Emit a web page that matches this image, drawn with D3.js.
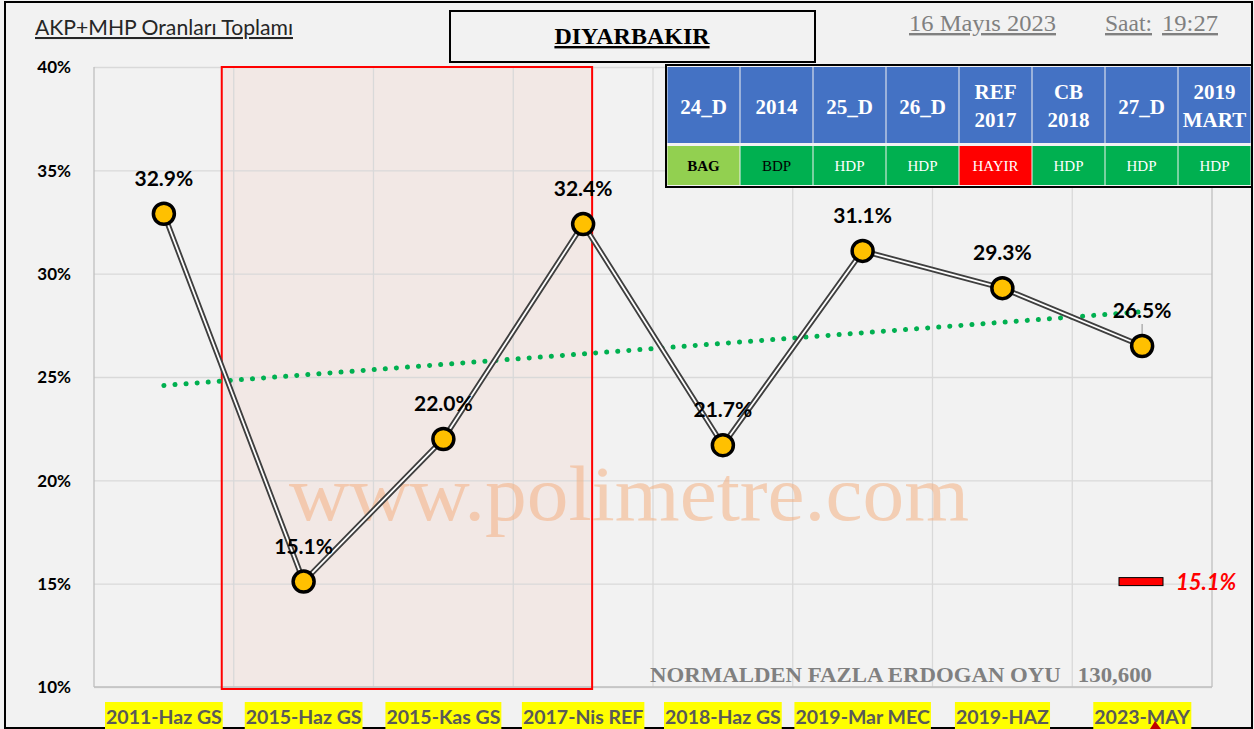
<!DOCTYPE html>
<html>
<head>
<meta charset="utf-8">
<script src="https://cdn.jsdelivr.net/npm/d3@7"></script>
<style>
  body { margin: 0; background: #ffffff; }
  svg { display: block; }
</style>
</head>
<body>
<div id="app"></div>
<script>

var categories = ["2011-Haz GS", "2015-Haz GS", "2015-Kas GS", "2017-Nis REF",
                  "2018-Haz GS", "2019-Mar MEC", "2019-HAZ", "2023-MAY"];
var values = [32.9, 15.1, 22.0, 32.4, 21.7, 31.1, 29.3, 26.5];
var yTicks = [10, 15, 20, 25, 30, 35, 40];
var tableHeaders = [["24_D"], ["2014"], ["25_D"], ["26_D"], ["REF", "2017"], ["CB", "2018"], ["27_D"], ["2019", "MART"]];
var tableWinners = ["BAG", "BDP", "HDP", "HDP", "HAYIR", "HDP", "HDP", "HDP"];
var minValue = 15.1;
var extraVotes = "130,600";

var W = 1254, H = 729;
var plotL = 94, plotR = 1212, plotT = 67, plotB = 687;

var svg = d3.select("#app")
    .append("svg")
    .attr("width", W)
    .attr("height", H);

// background + outer frame
svg.append("rect")
    .attr("x", 0).attr("y", 0).attr("width", W).attr("height", H)
    .style("fill", "#f2f2f2");
svg.append("rect")
    .attr("x", 5).attr("y", 2).attr("width", W - 7).attr("height", H - 3)
    .style("fill", "none").style("stroke", "#000").style("stroke-width", 2);

var x = d3.scaleBand().domain(categories).range([plotL, plotR]).padding(0);
var y = d3.scaleLinear().domain([10, 40]).range([plotB, plotT]);

function cx(d, i) { return x(categories[i]) + x.bandwidth() / 2; }

// shaded red zone (2015-Haz .. 2017-Nis)
var zoneX0 = x(categories[1]) - 12;
var zoneX1 = x(categories[3]) + x.bandwidth() / 2 + 9;
svg.append("rect")
    .attr("x", zoneX0)
    .attr("y", y(40))
    .attr("width", zoneX1 - zoneX0)
    .attr("height", y(10) - y(40) + 2)
    .style("fill", "#f2e8e5");

// gridlines
svg.append("g")
    .attr("transform", "translate(" + plotL + ",0)")
    .call(d3.axisLeft(y).tickValues(yTicks).tickSize(-(plotR - plotL)).tickFormat(""))
    .call(function (g) {
	g.select(".domain").remove();
	g.selectAll("line").style("stroke", "#d9d9d9").style("stroke-width", 1.3);
    });

svg.append("g")
    .selectAll("line")
    .data(d3.range(categories.length + 1))
    .enter()
    .append("line")
    .attr("x1", function (k) { return plotL + k * x.bandwidth(); })
    .attr("x2", function (k) { return plotL + k * x.bandwidth(); })
    .attr("y1", plotT).attr("y2", plotB)
    .style("stroke", function (k) { return (k === 0 || k === categories.length) ? "#bfbfbf" : "#d9d9d9"; })
    .style("stroke-width", 1.3);

svg.append("line")
    .attr("x1", plotL).attr("x2", plotR).attr("y1", plotB).attr("y2", plotB)
    .style("stroke", "#bfbfbf").style("stroke-width", 1.3);

// red zone frame
svg.append("rect")
    .attr("x", zoneX0)
    .attr("y", y(40))
    .attr("width", zoneX1 - zoneX0)
    .attr("height", y(10) - y(40) + 2)
    .style("fill", "none").style("stroke", "#ff0000").style("stroke-width", 2);

// y tick labels
svg.append("g")
    .attr("transform", "translate(" + (plotL - 20) + ",0)")
    .call(d3.axisLeft(y).tickValues(yTicks).tickSize(0).tickFormat(function (d) { return d + "%"; }))
    .call(function (g) {
	g.select(".domain").remove();
	g.selectAll("text")
	    .attr("dy", "0.35em")
	    .style("font-family", "Lato, 'Open Sans', sans-serif")
	    .style("font-weight", "bold")
	    .style("font-size", "17px")
	    .style("fill", "#000");
    });

// watermark
svg.append("text")
    .attr("x", 629).attr("y", 520)
    .attr("text-anchor", "middle")
    .attr("textLength", 680)
    .attr("lengthAdjust", "spacingAndGlyphs")
    .style("font-family", "'Liberation Serif', 'DejaVu Serif', serif")
    .style("font-size", "78px")
    .style("fill", "#f4b183")
    .style("opacity", 0.55)
    .text("www.polimetre.com");

// trend line (linear least squares over the series)
var n = values.length;
var mx = d3.mean(d3.range(n)), my = d3.mean(values);
var slope = d3.sum(d3.range(n), function (i) { return (i - mx) * (values[i] - my); }) /
    d3.sum(d3.range(n), function (i) { return (i - mx) * (i - mx); });
var icpt = my - slope * mx;
svg.append("line")
    .attr("x1", cx(null, 0)).attr("y1", y(icpt))
    .attr("x2", cx(null, n - 1)).attr("y2", y(icpt + slope * (n - 1)))
    .style("stroke", "#00b050")
    .style("stroke-width", 5)
    .style("stroke-linecap", "round")
    .style("stroke-dasharray", "0.1 11");

// double line series
var line = d3.line()
    .x(function (d, i) { return cx(d, i); })
    .y(function (d) { return y(d); });

svg.append("path")
    .datum(values)
    .attr("d", line)
    .style("fill", "none")
    .style("stroke", "#3f3f3f")
    .style("stroke-width", 5.5);
svg.append("path")
    .datum(values)
    .attr("d", line)
    .style("fill", "none")
    .style("stroke", "#ffffff")
    .style("stroke-width", 1.8);

// leader line for last label
svg.append("line")
    .attr("x1", cx(null, n - 1)).attr("x2", cx(null, n - 1))
    .attr("y1", y(values[n - 1]) - 22).attr("y2", y(values[n - 1]))
    .style("stroke", "#a6a6a6").style("stroke-width", 1.3);

// markers
svg.append("g")
    .selectAll("circle")
    .data(values)
    .enter()
    .append("circle")
    .attr("cx", cx)
    .attr("cy", function (d) { return y(d); })
    .attr("r", 10.5)
    .style("fill", "#ffc000")
    .style("stroke", "#000")
    .style("stroke-width", 3.5);

// value labels
svg.append("g")
    .selectAll("text")
    .data(values)
    .enter()
    .append("text")
    .attr("x", cx)
    .attr("y", function (d) { return y(d) - 28; })
    .attr("text-anchor", "middle")
    .style("font-family", "Lato, 'Open Sans', sans-serif")
    .style("font-weight", "bold")
    .style("font-size", "21px")
    .style("fill", "#000")
    .text(function (d) { return d.toFixed(1) + "%"; });

// x category labels with yellow highlight
var xl = svg.append("g")
    .selectAll(".xlab")
    .data(categories)
    .enter()
    .append("g")
    .attr("class", "xlab")
    .attr("transform", function (d) { return "translate(" + (x(d) + x.bandwidth() / 2) + ", 724)"; });

xl.append("text")
    .attr("text-anchor", "middle")
    .style("font-family", "Lato, 'Open Sans', sans-serif")
    .style("font-weight", "bold")
    .style("font-size", "19.5px")
    .style("fill", "#595959")
    .text(function (d) { return d; });

xl.each(function () {
    var g = d3.select(this);
    var bb = g.select("text").node().getBBox();
    g.insert("rect", "text")
	.attr("x", bb.x - 1).attr("y", -22)
	.attr("width", bb.width + 2).attr("height", 28)
	.style("fill", "#ffff00");
});

// small red pointer cut by the bottom frame
svg.append("path")
    .attr("d", "M1150,729 L1155,721 L1161,729 Z")
    .style("fill", "#c00000");

// min marker legend
svg.append("rect")
    .attr("x", 1119).attr("y", y(minValue) - 4)
    .attr("width", 44).attr("height", 8)
    .style("fill", "#ff0000").style("stroke", "#000").style("stroke-width", 1);
svg.append("text")
    .attr("x", 1176).attr("y", y(minValue) + 8)
    .style("font-family", "Lato, 'Open Sans', sans-serif")
    .style("font-weight", "bold")
    .style("font-style", "italic")
    .style("font-size", "22px")
    .style("fill", "#ff0000")
    .text(minValue.toFixed(1) + "%");

// extra votes note
svg.append("text")
    .attr("x", 650).attr("y", 682)
    .attr("textLength", 502)
    .attr("lengthAdjust", "spacingAndGlyphs")
    .style("font-family", "'Liberation Serif', 'DejaVu Serif', serif")
    .style("font-weight", "bold")
    .style("font-size", "22px")
    .style("fill", "#808080")
    .style("white-space", "pre")
    .text("NORMALDEN FAZLA ERDOGAN OYU   " + extraVotes);

// chart title
svg.append("text")
    .attr("x", 35).attr("y", 35)
    .attr("textLength", 258)
    .attr("lengthAdjust", "spacingAndGlyphs")
    .style("font-family", "Lato, 'Open Sans', sans-serif")
    .style("font-size", "20.5px")
    .style("fill", "#262626")
    .style("text-decoration", "underline")
    .text("AKP+MHP Oranları Toplamı");

// city box
svg.append("rect")
    .attr("x", 450).attr("y", 11).attr("width", 365).attr("height", 51)
    .style("fill", "#f2f2f2").style("stroke", "#000").style("stroke-width", 2);
svg.append("text")
    .attr("x", 632).attr("y", 44)
    .attr("text-anchor", "middle")
    .style("font-family", "'Liberation Serif', 'DejaVu Serif', serif")
    .style("font-weight", "bold")
    .style("font-size", "24px")
    .style("text-decoration", "underline")
    .style("fill", "#000")
    .text("DIYARBAKIR");

// date / time
var stamp = [["16 Mayıs 2023", 909, 147], ["Saat:", 1105, 47], ["19:27", 1162, 56]];
svg.append("g")
    .selectAll("text")
    .data(stamp)
    .enter()
    .append("text")
    .attr("x", function (d) { return d[1]; })
    .attr("y", 31)
    .attr("textLength", function (d) { return d[2]; })
    .attr("lengthAdjust", "spacingAndGlyphs")
    .style("font-family", "'Liberation Serif', 'DejaVu Serif', serif")
    .style("font-size", "24px")
    .style("fill", "#808080")
    .style("text-decoration", "underline")
    .text(function (d) { return d[0]; });

// election table
var tx = 666, tw = 586, colW = (tw - 2) / tableHeaders.length;
var winnerFill = { BAG: "#92d050", BDP: "#00b050", HDP: "#00b050", HAYIR: "#ff0000" };
var winnerText = { BAG: "#000", BDP: "#000", HDP: "#fff", HAYIR: "#fff" };

svg.append("rect")
    .attr("x", tx).attr("y", 65).attr("width", tw).attr("height", 122)
    .style("fill", "#f2f2f2").style("stroke", "#000").style("stroke-width", 2);

var cols = svg.append("g")
    .selectAll(".col")
    .data(tableHeaders)
    .enter()
    .append("g")
    .attr("class", "col")
    .attr("transform", function (d, i) { return "translate(" + (tx + 1 + i * colW) + ",0)"; });

cols.append("rect")
    .attr("x", 0.5).attr("y", 67).attr("width", colW - 1).attr("height", 76)
    .style("fill", "#4472c4");

cols.append("rect")
    .attr("x", 0.5).attr("y", 146).attr("width", colW - 1).attr("height", 39)
    .style("fill", function (d, i) { return winnerFill[tableWinners[i]]; });

cols.each(function (d, i) {
    var g = d3.select(this);
    var t = g.append("text")
	.attr("text-anchor", "middle")
	.style("font-family", "'Liberation Serif', 'DejaVu Serif', serif")
	.style("font-weight", "bold")
	.style("font-size", "21px")
	.style("fill", "#fff");
    var y0 = d.length === 1 ? 114 : 99;
    d.forEach(function (s, k) {
	t.append("tspan").attr("x", colW / 2).attr("y", y0 + k * 28).text(s);
    });
    g.append("text")
	.attr("x", colW / 2).attr("y", 171)
	.attr("text-anchor", "middle")
	.style("font-family", "'Liberation Serif', 'DejaVu Serif', serif")
	.style("font-weight", tableWinners[i] === "BAG" ? "bold" : "normal")
	.style("font-size", "15px")
	.style("fill", winnerText[tableWinners[i]])
	.text(tableWinners[i]);
});

</script>
</body>
</html>
